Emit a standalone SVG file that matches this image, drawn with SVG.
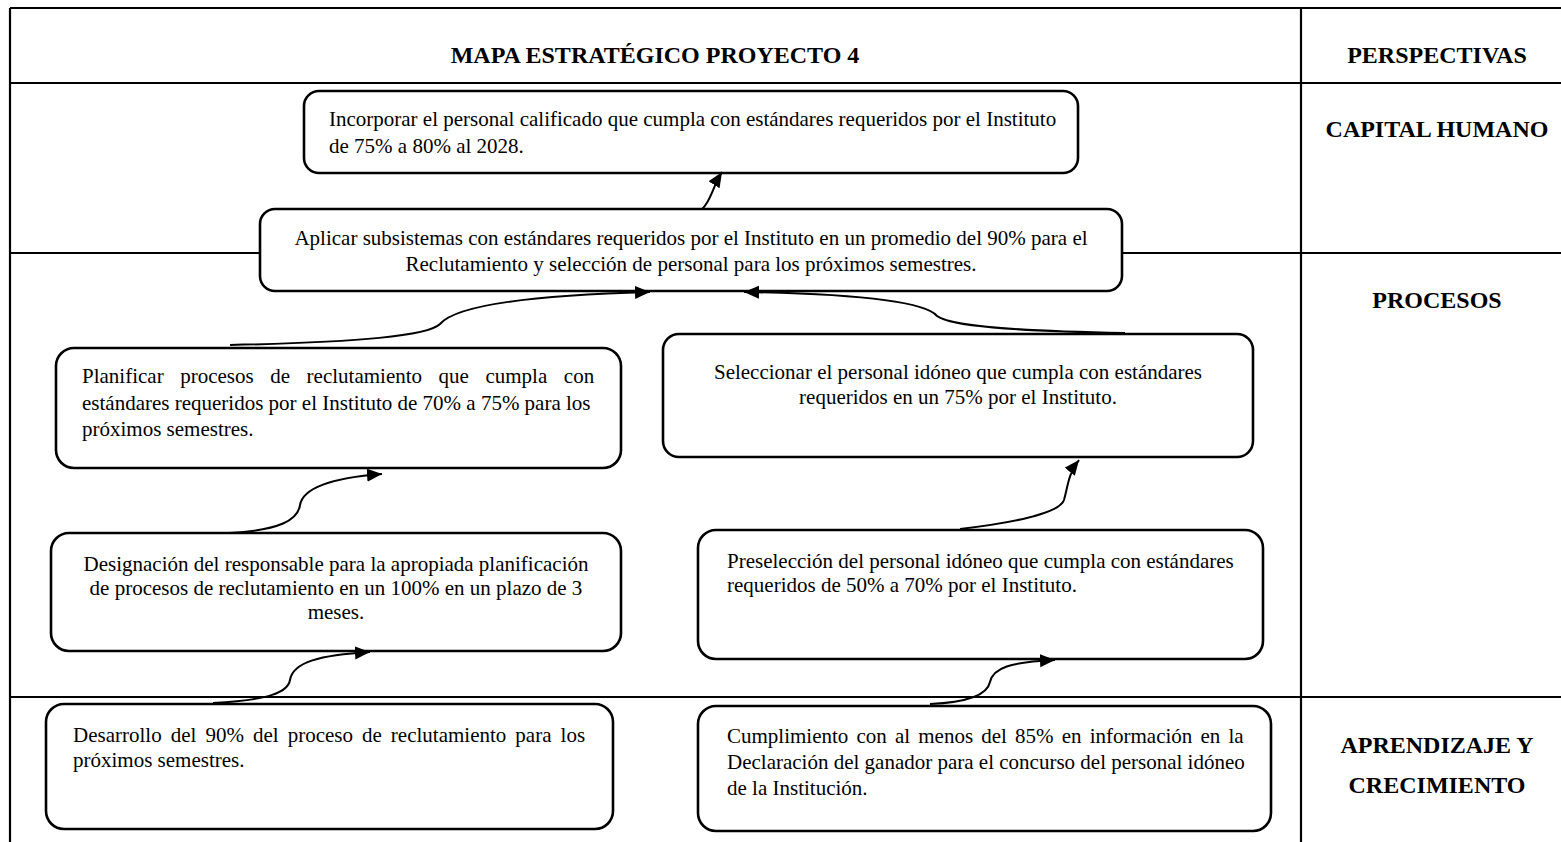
<svg xmlns="http://www.w3.org/2000/svg" width="1561" height="842" viewBox="0 0 1561 842">
  <style>
    .grid { stroke: #000; stroke-width: 2.2; fill: none; }
    .box { fill: #fff; stroke: #000; stroke-width: 2.6; }
    .txt { font-family: "Liberation Serif", "Times New Roman", serif; font-size: 21px; fill: #000; }
    .head { font-family: "Liberation Serif", "Times New Roman", serif; font-size: 24px; font-weight: bold; fill: #000; text-anchor: middle; }
    .mid { text-anchor: middle; }
    .link { fill: none; stroke: #000; stroke-width: 2; marker-end: url(#arrow); }
  </style>
  <defs>
    <marker id="arrow" markerUnits="userSpaceOnUse" markerWidth="16" markerHeight="14" refX="15" refY="6.5" orient="auto">
      <path d="M0,0 L15,6.5 L0,13 Z" fill="#000"/>
    </marker>
  </defs>

  <rect width="1561" height="842" fill="#fff"/>

  <!-- table frame -->
  <g id="table">
    <path class="grid" d="M10 8 H1561 M10 8 V842 M1301 8 V842 M10 83 H1561 M10 253 H1561 M10 697 H1561"/>
    <text class="head" x="655" y="63">MAPA ESTRATÉGICO PROYECTO 4</text>
    <text class="head" x="1437" y="63">PERSPECTIVAS</text>
    <text class="head" x="1437" y="137">CAPITAL HUMANO</text>
    <text class="head" x="1437" y="308">PROCESOS</text>
    <text class="head" x="1437" y="753">APRENDIZAJE Y</text>
    <text class="head" x="1437" y="793">CRECIMIENTO</text>
  </g>

  <!-- objectives -->
  <g id="incorporar">
    <rect class="box" x="304" y="91" width="774" height="82" rx="15"/>
    <text class="txt" x="329" y="126">Incorporar el personal calificado que cumpla con estándares requeridos por el Instituto</text>
    <text class="txt" x="329" y="153">de 75% a 80% al 2028.</text>
  </g>

  <g id="aplicar">
    <rect class="box" x="260" y="209" width="862" height="82" rx="15"/>
    <text class="txt mid" x="691" y="245">Aplicar subsistemas con estándares requeridos por el Instituto en un promedio del 90% para el</text>
    <text class="txt mid" x="691" y="271">Reclutamiento y selección de personal para los próximos semestres.</text>
  </g>

  <g id="planificar">
    <rect class="box" x="56" y="348" width="565" height="120" rx="18"/>
    <text class="txt" x="82" y="383" word-spacing="11.3">Planificar procesos de reclutamiento que cumpla con</text>
    <text class="txt" x="82" y="409.5">estándares requeridos por el Instituto de 70% a 75% para los</text>
    <text class="txt" x="82" y="436">próximos semestres.</text>
  </g>

  <g id="seleccionar">
    <rect class="box" x="663" y="334" width="590" height="123" rx="16"/>
    <text class="txt mid" x="958" y="379">Seleccionar el personal idóneo que cumpla con estándares</text>
    <text class="txt mid" x="958" y="404">requeridos en un 75% por el Instituto.</text>
  </g>

  <g id="designacion">
    <rect class="box" x="51" y="533" width="570" height="118" rx="18"/>
    <text class="txt mid" x="336" y="571">Designación del responsable para la apropiada planificación</text>
    <text class="txt mid" x="336" y="595">de procesos de reclutamiento en un 100% en un plazo de 3</text>
    <text class="txt mid" x="336" y="619">meses.</text>
  </g>

  <g id="preseleccion">
    <rect class="box" x="698" y="530" width="565" height="129" rx="18"/>
    <text class="txt" x="727" y="568">Preselección del personal idóneo que cumpla con estándares</text>
    <text class="txt" x="727" y="592">requeridos de 50% a 70% por el Instituto.</text>
  </g>

  <g id="desarrollo">
    <rect class="box" x="46" y="704" width="567" height="125" rx="18"/>
    <text class="txt" x="73" y="742" word-spacing="3.8">Desarrollo del 90% del proceso de reclutamiento para los</text>
    <text class="txt" x="73" y="767">próximos semestres.</text>
  </g>

  <g id="cumplimiento">
    <rect class="box" x="698" y="706" width="573" height="125" rx="18"/>
    <text class="txt" x="727" y="743" word-spacing="2.9">Cumplimiento con al menos del 85% en información en la</text>
    <text class="txt" x="727" y="769">Declaración del ganador para el concurso del personal idóneo</text>
    <text class="txt" x="727" y="795">de la Institución.</text>
  </g>

  <!-- cause-effect links -->
  <g id="connectors">
    <path class="link" d="M702 209 C711 201, 712 188, 722 172"/>
    <path class="link" d="M230 345 C360 342, 428 336, 440 324 C452 310, 500 296, 650 292"/>
    <path class="link" d="M1125 333 C1010 331, 950 326, 937 316 C925 302, 860 294, 744 292"/>
    <path class="link" d="M230 533 C280 530, 298 520, 300 505 C303 488, 330 478, 382 474"/>
    <path class="link" d="M213 703 C270 700, 288 692, 290 680 C293 662, 320 655, 370 652"/>
    <path class="link" d="M960 529 C1020 522, 1060 512, 1064 500 C1068 486, 1068 474, 1079 460"/>
    <path class="link" d="M930 704 C975 702, 988 692, 990 682 C993 668, 1010 662, 1055 660"/>
  </g>
</svg>
